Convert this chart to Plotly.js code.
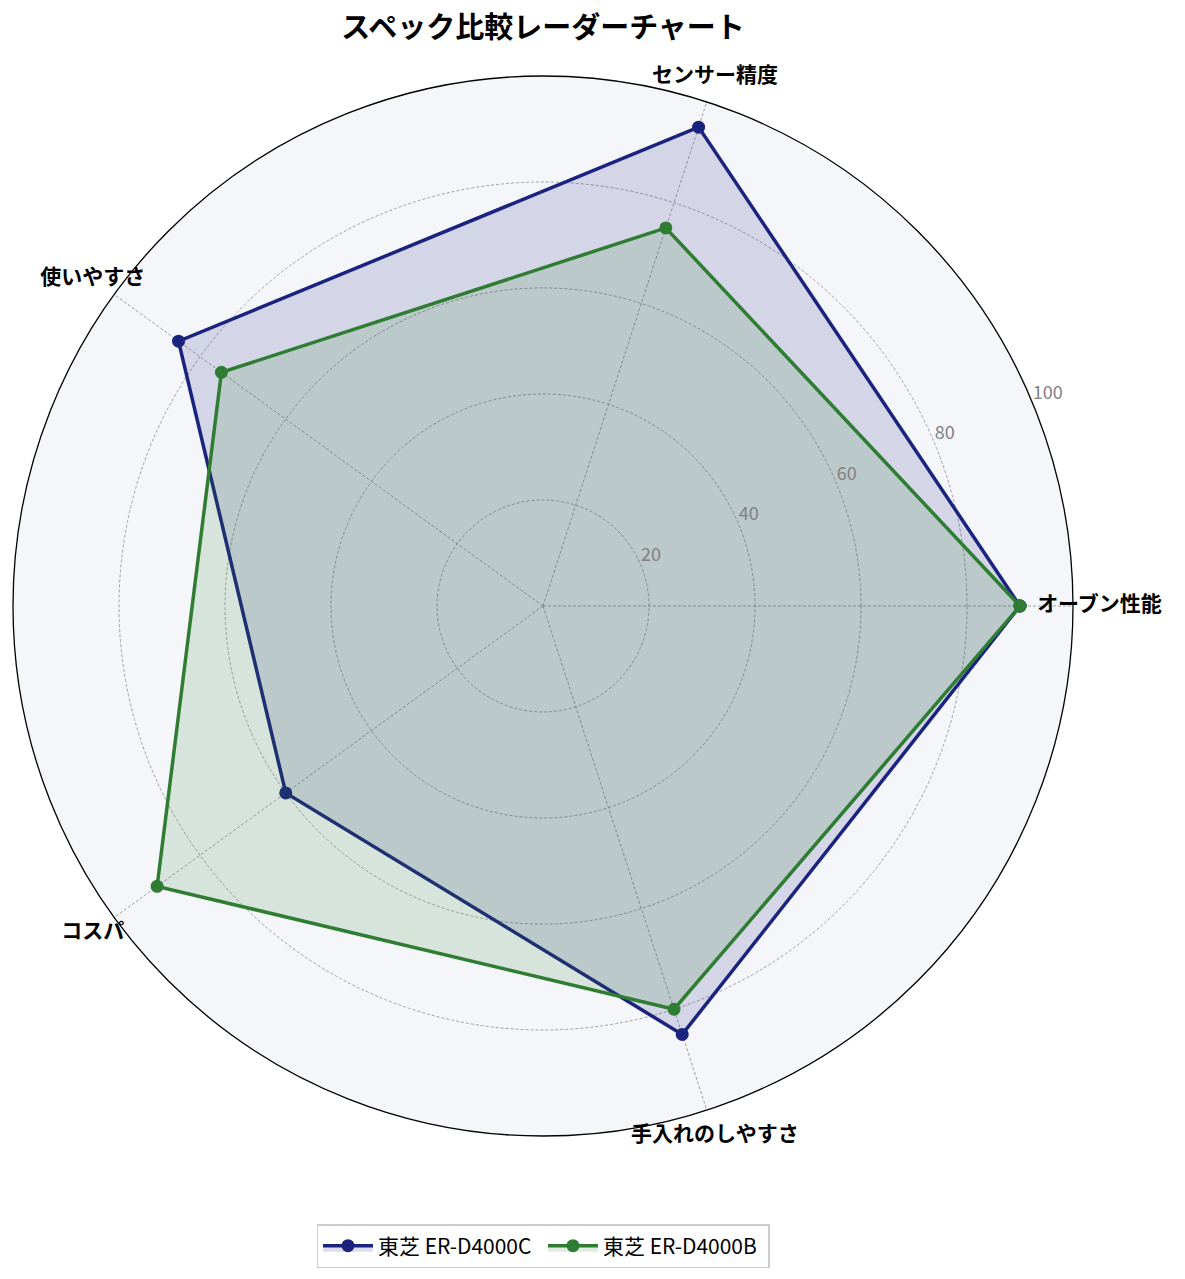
<!DOCTYPE html>
<html><head>
<meta charset="utf-8"/>
<script src="https://cdn.plot.ly/plotly-3.0.1.min.js"></script>
<style>
  * { margin: 0px; padding: 0px }
  body { overflow: hidden }
  /* the paper is a bit wider than the window so the label ring fits on the left */
  #chart { width: 1199px; height: 1279px; margin-left: -14px }
</style>
</head><body>
<div id="chart"></div>
<script>
var categories = ['オーブン性能', 'センサー精度', '使いやすさ', 'コスパ', '手入れのしやすさ'];
var seriesC = [90, 95, 85, 60, 85];   // 東芝 ER-D4000C
var seriesB = [90, 75, 75, 90, 80];   // 東芝 ER-D4000B
var nameC = '東芝 ER-D4000C';
var nameB = '東芝 ER-D4000B';
var radialTicks = [20, 40, 60, 80, 100];

var font = '"Noto Sans CJK JP", "Noto Sans", sans-serif';

var W = 1199, H = 1279;
var cx = 557, cy = 606;      // centre of the radar, paper px from left / top
var R = 530, RL = 557;       // chart radius, label ring radius
var labelAngle = 22.5;       // radial tick labels sit along this direction

function closed(a){ return a.concat([a[0]]); }
function dom(rad){
    return {x: [(cx - rad) / W, (cx + rad) / W], y: [(H - cy - rad) / H, (H - cy + rad) / H]};
}

var traces = [
    {
        type: 'scatterpolar',
        r: closed(seriesC),
        theta: closed(categories),
        name: nameC,
        mode: 'lines+markers',
        fill: 'toself',
        fillcolor: 'rgba(26,35,126,0.15)',
        line: {color: '#1a237e', width: 3.5},
        marker: {color: '#1a237e', size: 13}
    },
    {
        type: 'scatterpolar',
        r: closed(seriesB),
        theta: closed(categories),
        name: nameB,
        mode: 'lines+markers',
        fill: 'toself',
        fillcolor: 'rgba(46,125,50,0.15)',
        line: {color: '#2e7d32', width: 3.5},
        marker: {color: '#2e7d32', size: 13}
    },
    {
        // category labels on an invisible, slightly larger polar
        type: 'scatterpolar',
        subplot: 'polar2',
        r: categories.map(function(){ return 105; }),
        theta: categories,
        text: categories,
        mode: 'text',
        textposition: 'middle center',
        textfont: {family: font, size: 21, color: '#000', weight: 'bold'},
        cliponaxis: false,
        showlegend: false,
        hoverinfo: 'skip'
    },
    {
        // radial tick labels, left/bottom anchored at each ring
        type: 'scatterpolar',
        subplot: 'polar3',
        r: radialTicks,
        theta: radialTicks.map(function(){ return labelAngle; }),
        text: radialTicks.map(String),
        mode: 'text',
        textposition: 'top right',
        textfont: {family: font, size: 18, color: '#808080'},
        cliponaxis: false,
        showlegend: false,
        hoverinfo: 'skip'
    }
];

var hiddenAxis = {showline: false, showgrid: false, showticklabels: false, ticks: ''};

var layout = {
    width: W,
    height: H,
    margin: {l: 0, r: 0, t: 0, b: 0},
    paper_bgcolor: '#ffffff',
    font: {family: font},
    title: {
        text: '<b>スペック比較レーダーチャート</b>',
        font: {family: font, size: 29, color: '#000'},
        x: cx / W, xanchor: 'center',
        y: 1 - 28 / H, yanchor: 'middle'
    },
    polar: {
        domain: dom(R),
        bgcolor: '#f5f6fa',
        radialaxis: {
            range: [0, 100],
            tickvals: radialTicks,
            angle: labelAngle,
            showticklabels: false,
            showline: false,
            ticks: '',
            gridcolor: '#a0a0a0',
            griddash: '3px,2px',
            gridwidth: 0.8
        },
        angularaxis: {
            direction: 'counterclockwise',
            rotation: 0,
            showticklabels: false,
            ticks: '',
            showline: true,
            linecolor: '#000',
            linewidth: 1.3,
            gridcolor: '#a0a0a0',
            griddash: '3px,2px',
            gridwidth: 0.8
        }
    },
    polar2: {
        domain: dom(RL),
        bgcolor: 'rgba(0,0,0,0)',
        radialaxis: Object.assign({range: [0, 100 * RL / R]}, hiddenAxis),
        angularaxis: Object.assign({direction: 'counterclockwise', rotation: 0}, hiddenAxis)
    },
    polar3: {
        domain: dom(R),
        bgcolor: 'rgba(0,0,0,0)',
        radialaxis: Object.assign({range: [0, 100]}, hiddenAxis),
        angularaxis: Object.assign({type: 'linear', direction: 'counterclockwise', rotation: 0}, hiddenAxis)
    },
    showlegend: true,
    legend: {
        orientation: 'h',
        x: cx / W, xanchor: 'center',
        y: 33 / H, yanchor: 'middle',
        bgcolor: '#ffffff',
        bordercolor: '#cccccc',
        borderwidth: 1.5,
        itemwidth: 50,
        entrywidth: 160,
        font: {family: font, size: 21, color: '#000'}
    }
};

Plotly.newPlot('chart', traces, layout, {displayModeBar: false});
</script>
</body></html>
